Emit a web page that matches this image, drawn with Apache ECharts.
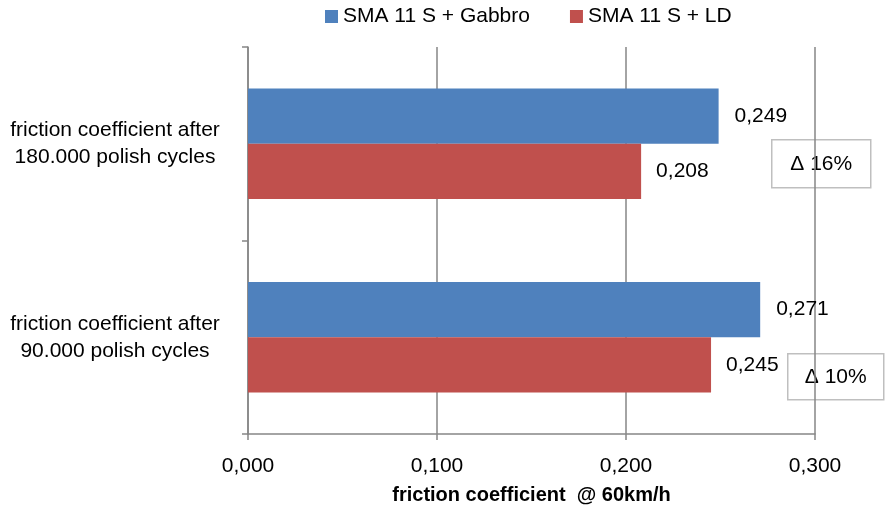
<!DOCTYPE html>
<html>
<head>
<meta charset="utf-8">
<script src="https://cdn.jsdelivr.net/npm/echarts@6/dist/echarts.min.js"></script>
<style>
  html, body { margin: 0; padding: 0; background: #ffffff; }
  #chart { width: 886px; height: 509px; }
</style>
</head>
<body>
<div id="chart"></div>
<script>
// Categories listed top to bottom (the y axis is inverted)
const categories = [
  'friction coefficient after\n180.000 polish cycles',
  'friction coefficient after\n90.000 polish cycles'
];
const seriesNames = ['SMA 11 S + Gabbro', 'SMA 11 S + LD'];
const gabbroValues = [0.249, 0.271];
const ldValues = [0.208, 0.245];
const xTicks = [0, 0.1, 0.2, 0.3];
// Relative difference notes, one per category
const deltaNotes = ['\u0394 16%', '\u0394 10%'];

const FONT = '"Liberation Sans", Arial, sans-serif';
const GRID_COLOR = '#868686';
const fmt = v => Number(v).toFixed(3).replace('.', ',');

const chart = echarts.init(document.getElementById('chart'));

function noteBox(text, x, y, w, h) {
  return {
    type: 'group',
    left: x,
    top: y,
    children: [
      {
        type: 'rect',
        shape: { x: 0, y: 0, width: w, height: h },
        style: { fill: '#ffffff', stroke: '#bfbfbf', lineWidth: 1.5 }
      },
      {
        type: 'text',
        x: w / 2,
        y: h / 2,
        style: {
          text: text,
          font: '21px ' + FONT,
          fill: '#000000',
          align: 'center',
          verticalAlign: 'middle'
        }
      }
    ]
  };
}

chart.setOption({
  animation: false,
  backgroundColor: '#ffffff',
  textStyle: { fontFamily: FONT },
  legend: {
    data: seriesNames,
    left: 320,
    top: 1,
    itemWidth: 13,
    itemHeight: 13,
    itemGap: 40,
    icon: 'rect',
    textStyle: { fontSize: 21, color: '#000000', fontFamily: FONT }
  },
  grid: {
    left: 248, right: 71, top: 47, bottom: 75,
    containLabel: false,
    outerBoundsMode: 'none'
  },
  xAxis: {
    type: 'value',
    min: xTicks[0],
    max: xTicks[xTicks.length - 1],
    interval: xTicks[1] - xTicks[0],
    axisLine: { show: true, lineStyle: { color: GRID_COLOR, width: 1.5 } },
    axisTick: { show: true, length: 6, lineStyle: { color: GRID_COLOR, width: 1.5 } },
    splitLine: { show: true, lineStyle: { color: GRID_COLOR, width: 1.5 } },
    axisLabel: {
      formatter: fmt,
      fontSize: 21,
      color: '#000000',
      margin: 22,
      fontFamily: FONT
    },
    name: 'friction coefficient  @ 60km/h',
    nameLocation: 'middle',
    nameGap: 51,
    nameTextStyle: { fontSize: 20, fontWeight: 'bold', color: '#000000', fontFamily: FONT }
  },
  yAxis: {
    type: 'category',
    data: categories,
    inverse: true,
    axisLine: { show: true, lineStyle: { color: GRID_COLOR, width: 1.5 } },
    axisTick: { show: true, length: 6, lineStyle: { color: GRID_COLOR, width: 1.5 } },
    axisLabel: {
      fontSize: 21,
      color: '#000000',
      align: 'center',
      margin: 133,
      lineHeight: 27,
      padding: [4, 0, 0, 0],
      fontFamily: FONT
    }
  },
  series: [
    {
      name: seriesNames[0],
      type: 'bar',
      data: gabbroValues,
      barGap: '0%',
      barCategoryGap: '43%',
      itemStyle: { color: '#4F81BD' },
      label: {
        show: true,
        position: 'right',
        distance: 16,
        formatter: p => fmt(p.value),
        fontSize: 21,
        color: '#000000',
        fontFamily: FONT
      }
    },
    {
      name: seriesNames[1],
      type: 'bar',
      data: ldValues,
      barGap: '0%',
      barCategoryGap: '43%',
      itemStyle: { color: '#C0504D' },
      label: {
        show: true,
        position: 'right',
        distance: 15,
        formatter: p => fmt(p.value),
        fontSize: 21,
        color: '#000000',
        fontFamily: FONT
      }
    }
  ],
  graphic: [
    noteBox(deltaNotes[0], 771, 139, 99, 48),
    noteBox(deltaNotes[1], 787, 353, 96, 46)
  ]
});
</script>
</body>
</html>
